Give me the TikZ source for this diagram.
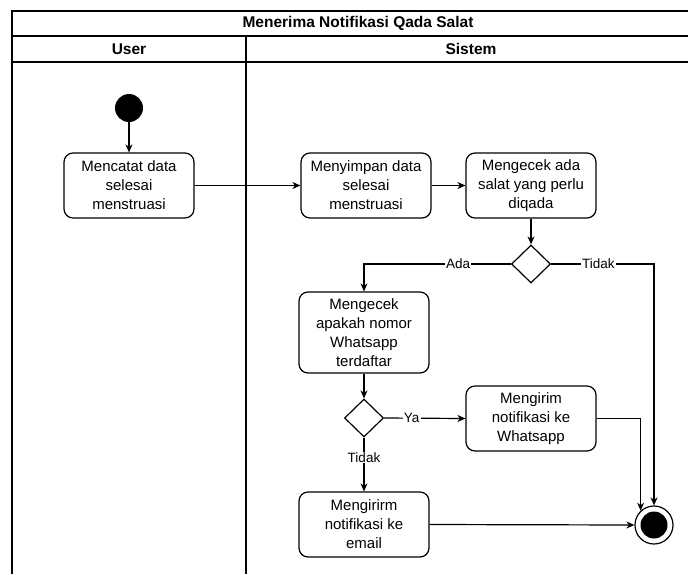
\documentclass[tikz,border=0pt]{standalone}
\usepackage{fontspec}
\setmainfont{Liberation Sans}
\usetikzlibrary{arrows.meta,shapes.geometric}
\begin{document}
\begin{tikzpicture}[x=1pt,y=-1pt,
  frame/.style={line width=1.2pt},
  act/.style={draw, rounded corners=9pt, line width=1.2pt, minimum width=130pt,
    minimum height=65pt, align=center, inner sep=0pt,
    font=\fontsize{15}{19}\selectfont},
  dec/.style={draw, diamond, line width=1.2pt, minimum width=39pt,
    minimum height=38pt, inner sep=0pt},
  flow/.style={-{Stealth[length=8pt,width=7pt,inset=2.5pt]}, line width=1.2pt},
  lbl/.style={fill=white, inner sep=1pt, font=\fontsize{13.5}{15}\selectfont},
  head/.style={font=\bfseries\fontsize{15.5}{18}\selectfont}
]
\useasboundingbox (0,0) rectangle (688,574);

% swimlane frame
\draw[frame] (12,574) -- (12,11) -- (688,11);
\draw[frame] (12,36) -- (688,36);
\draw[frame] (12,62) -- (688,62);
\draw[frame] (246,36) -- (246,574);
\node[head] (title) at (358,23.5) {Menerima Notifikasi Qada Salat};
\node[head] (laneuser) at (129,49) {User};
\node[head] (lanesys) at (471,49) {Sistem};

% nodes
\node[circle, fill=black, minimum size=28pt, inner sep=0pt] (start) at (129,108) {};
\node[act] (a1) at (129,185.5) {Mencatat data\\selesai\\menstruasi};
\node[act] (a2) at (366,185.5) {Menyimpan data\\selesai\\menstruasi};
\node[act] (a3) at (531,185.5) {Mengecek ada\\salat yang perlu\\diqada};
\node[dec] (d1) at (531,264) {};
\node[act, minimum height=81pt] (a4) at (364,332.5) {Mengecek\\apakah nomor\\Whatsapp\\terdaftar};
\node[dec] (d2) at (364,418) {};
\node[act] (a5) at (531,418.5) {Mengirim\\notifikasi ke\\Whatsapp};
\node[act] (a6) at (364,524.5) {Mengirirm\\notifikasi ke\\email};
\node[circle, draw, line width=1.2pt, minimum size=38pt, inner sep=0pt] (end) at (654,525) {};
\node[circle, fill=black, minimum size=27pt, inner sep=0pt] (endcore) at (end.center) {};

% connectors
\draw[flow] (start) -- (a1);
\draw[flow] (a1) -- (a2);
\draw[flow] (a2) -- (a3);
\draw[flow] (a3) -- (d1);
\draw[flow] (d1.west) -| node[lbl, pos=0.18] {Ada} (a4.north);
\draw[flow] (d1.east) -| node[lbl, pos=0.23] {Tidak} (end.north);
\draw[flow] (a4) -- (d2);
\draw[flow] (d2.east) -- node[lbl, pos=0.34] {Ya} (a5.west);
\draw[flow] (d2.south) -- node[lbl, pos=0.37] {Tidak} (a6.north);
\draw[flow] (a5.east) -| (end.133);
\draw[flow] (a6.east) -- (end.west);
\end{tikzpicture}
\end{document}
